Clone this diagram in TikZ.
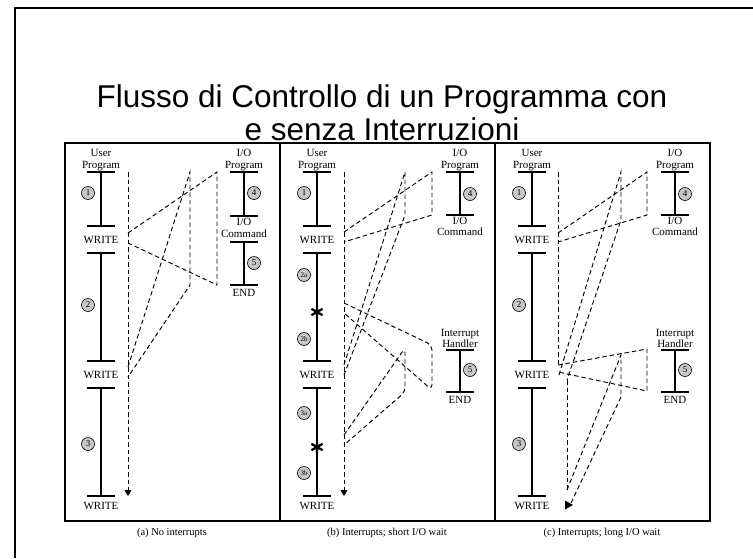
\documentclass[tikz,border=0pt]{standalone}
\usepackage{fontspec}
\setmainfont{Liberation Sans}
\newfontfamily\tnr{Liberation Serif}
\usetikzlibrary{arrows.meta}
\begin{document}
\begin{tikzpicture}[x=1pt,y=-1pt,
  lbl/.style={font=\tnr\fontsize{11}{11.5}\selectfont, inner sep=0pt, align=center},
  capt/.style={font=\tnr\fontsize{10.5}{12}\selectfont, inner sep=0pt},
  num/.style={circle, draw, line width=0.6pt, fill=black!22, minimum size=13pt, inner sep=0pt, font=\tnr\fontsize{9}{9}\selectfont},
  nums/.style={num, font=\tnr\fontsize{7}{7}\selectfont},
  tk/.style={line width=1.1pt},
  flow/.style={line width=0.95pt, dash pattern=on 4.5pt off 3pt},
  endarrow/.style={-{Triangle[width=7pt,length=6pt]}},
  boxline/.style={line width=2.5pt},
  titletext/.style={font=\fontsize{31.5}{31.5}\selectfont, inner sep=0pt, anchor=base},
  astline/.style={line width=2.3pt}
]
\useasboundingbox (0,0) rectangle (753,558);
\fill[white] (0,0) rectangle (753,558);
% slide frame
\draw[line width=1.5pt] (15,558) -- (15,8) -- (753,8);
% title
\node[titletext] (t1) at (382,107) {Flusso di Controllo di un Programma con};
\node[titletext] (t2) at (382,140) {e senza Interruzioni};
% figure box
\draw[boxline] (65,143) rectangle (710,521);
\draw[boxline] (280,143) -- (280,521);
\draw[boxline] (495,143) -- (495,521);

% ================= panel (a) =================
\node[lbl, anchor=south] (aUP) at (101,171) {User\\Program};
\draw[tk] (87,172)--(115,172) (101,172)--(101,226) (87,226)--(115,226);
\node[lbl] (aW1) at (101,240) {WRITE};
\draw[tk] (87,253)--(115,253) (101,253)--(101,361) (87,361)--(115,361);
\node[lbl] (aW2) at (101,374.5) {WRITE};
\draw[tk] (87,388)--(115,388) (101,388)--(101,496) (87,496)--(115,496);
\node[lbl, anchor=north] (aW3) at (101,502) {WRITE};
\node[num] (a1) at (88,193) {1};
\node[num] (a2) at (88,305) {2};
\node[num] (a3) at (88,444) {3};
\node[lbl, anchor=south] (aIO) at (244,171) {I/O\\Program};
\draw[tk] (230,172)--(258,172) (244,172)--(244,216) (230,216)--(258,216);
\node[lbl] (aCmd) at (244,228) {I/O\\Command};
\draw[tk] (230,242)--(258,242) (244,242)--(244,285) (230,285)--(258,285);
\node[lbl, anchor=north] (aEnd) at (244,289) {END};
\node[num] (a4) at (254,193) {4};
\node[num] (a5) at (254,263) {5};
% flow (a)
\coordinate (aC0) at (128,172);
\coordinate (aCe) at (128,496);
\draw[flow, endarrow] (aC0) -- (aCe);
\coordinate (aP1) at (128,233); \coordinate (aQ1) at (217,172);
\coordinate (aR1) at (217,285); \coordinate (aS1) at (128,243);
\draw[flow] (aP1) -- (aQ1) -- (aR1) -- (aS1);
\coordinate (aP2) at (128,367); \coordinate (aQ2) at (190,172);
\coordinate (aR2) at (190,285); \coordinate (aS2) at (128,377);
\draw[flow] (aP2) -- (aQ2) -- (aR2) -- (aS2);
\node[capt] (capa) at (172,533) {(a) No interrupts};

% ================= panel (b) =================
\node[lbl, anchor=south] (bUP) at (317,171) {User\\Program};
\draw[tk] (303,172)--(331,172) (317,172)--(317,226) (303,226)--(331,226);
\node[lbl] (bW1) at (317,240) {WRITE};
\draw[tk] (303,253)--(331,253) (317,253)--(317,361) (303,361)--(331,361);
\node[lbl] (bW2) at (317,374.5) {WRITE};
\draw[tk] (303,388)--(331,388) (317,388)--(317,496) (303,496)--(331,496);
\node[lbl, anchor=north] (bW3) at (317,502) {WRITE};
\node[num] (b1) at (304,193) {1};
\node[nums] (b2a) at (304,275) {2a};
\node[nums] (b2b) at (304,339) {2b};
\node[nums] (b3a) at (304,413) {3a};
\node[nums] (b3b) at (304,473) {3b};
\coordinate (bAst1) at (317,312);
\coordinate (bAst2) at (317,447);
\foreach \c in {bAst1,bAst2}{
  \draw[astline, shift={(\c)}] (0,-6.5)--(0,6.5) (-5.6,-3.2)--(5.6,3.2) (-5.6,3.2)--(5.6,-3.2);
}
\node[lbl, anchor=south] (bIO) at (460,171) {I/O\\Program};
\draw[tk] (446,172)--(474,172) (460,172)--(460,215) (446,215)--(474,215);
\node[lbl, anchor=north] (bCmd) at (460,217) {I/O\\Command};
\node[num] (b4) at (470,194) {4};
\node[lbl, anchor=south] (bIH) at (460,348) {Interrupt\\Handler};
\draw[tk] (446,350)--(474,350) (460,350)--(460,392) (446,392)--(474,392);
\node[lbl, anchor=north] (bEnd) at (460,396) {END};
\node[num] (b5) at (470,370) {5};
% flow (b)
\coordinate (bC0) at (344,172);
\coordinate (bCe) at (344,496);
\draw[flow, endarrow] (bC0) -- (bCe);
\coordinate (bP1) at (344,232); \coordinate (bQ1) at (432,172);
\coordinate (bR1) at (432,215); \coordinate (bS1) at (344,242);
\draw[flow] (bP1) -- (bQ1) -- (bR1) -- (bS1);
\coordinate (bP2) at (344,365); \coordinate (bQ2) at (405,172);
\coordinate (bR2) at (405,215); \coordinate (bS2) at (344,375);
\draw[flow] (bP2) -- (bQ2) -- (bR2) -- (bS2);
\coordinate (bP3) at (344,303); \coordinate (bQ3) at (432,345);
\coordinate (bR3) at (432,390); \coordinate (bS3) at (344,313);
\draw[flow, rounded corners=5pt] (bP3) -- (bQ3) -- (bR3) -- (bS3);
\coordinate (bP4) at (344,435); \coordinate (bQ4) at (405,348);
\coordinate (bR4) at (405,392); \coordinate (bS4) at (344,445);
\draw[flow, rounded corners=5pt] (bP4) -- (bQ4) -- (bR4) -- (bS4);
\node[capt] (capb) at (387,533) {(b) Interrupts; short I/O wait};

% ================= panel (c) =================
\node[lbl, anchor=south] (cUP) at (532,171) {User\\Program};
\draw[tk] (518,172)--(546,172) (532,172)--(532,226) (518,226)--(546,226);
\node[lbl] (cW1) at (532,240) {WRITE};
\draw[tk] (518,253)--(546,253) (532,253)--(532,361) (518,361)--(546,361);
\node[lbl] (cW2) at (532,374.5) {WRITE};
\draw[tk] (518,388)--(546,388) (532,388)--(532,496) (518,496)--(546,496);
\node[lbl, anchor=north] (cW3) at (532,502) {WRITE};
\node[num] (c1) at (519,193) {1};
\node[num] (c2) at (519,305) {2};
\node[num] (c3) at (519,444) {3};
\node[lbl, anchor=south] (cIO) at (675,171) {I/O\\Program};
\draw[tk] (661,172)--(689,172) (675,172)--(675,215) (661,215)--(689,215);
\node[lbl, anchor=north] (cCmd) at (675,217) {I/O\\Command};
\node[num] (c4) at (685,194) {4};
\node[lbl, anchor=south] (cIH) at (675,348) {Interrupt\\Handler};
\draw[tk] (661,350)--(689,350) (675,350)--(675,392) (661,392)--(689,392);
\node[lbl, anchor=north] (cEnd) at (675,396) {END};
\node[num] (c5) at (685,370) {5};
% flow (c)
\coordinate (cC0) at (558,172);
\coordinate (cL1) at (558,365);
\coordinate (cL2) at (558,372);
\coordinate (cL3) at (567,380);
\coordinate (cL4) at (567,490);
\draw[flow] (cC0) -- (cL1);
\coordinate (cP1) at (558,233); \coordinate (cQ1) at (647,172);
\coordinate (cR1) at (647,215); \coordinate (cS1) at (558,242);
\draw[flow] (cP1) -- (cQ1) -- (cR1) -- (cS1);
\coordinate (cQ2) at (647,349); \coordinate (cR2) at (647,391);
\draw[flow] (cL1) -- (cQ2) -- (cR2) -- (cL2);
\coordinate (cP3) at (559,375); \coordinate (cQ3) at (621,172);
\coordinate (cR3) at (621,220);
\draw[flow] (cP3) -- (cQ3) -- (cR3) -- (cL3);
\draw[flow] (cL3) -- (cL4);
\coordinate (cQ4) at (621,355); \coordinate (cR4) at (621,397);
\coordinate (cS4) at (571,503);
\draw[flow] (cL4) -- (cQ4) -- (cR4) -- (cS4);
\coordinate (cTip) at (573,505);
\fill (cTip) -- ++(-8,-4.5) -- ++(0,9) -- cycle;
\node[capt] (capc) at (602,533) {(c) Interrupts; long I/O wait};
\end{tikzpicture}
\end{document}
